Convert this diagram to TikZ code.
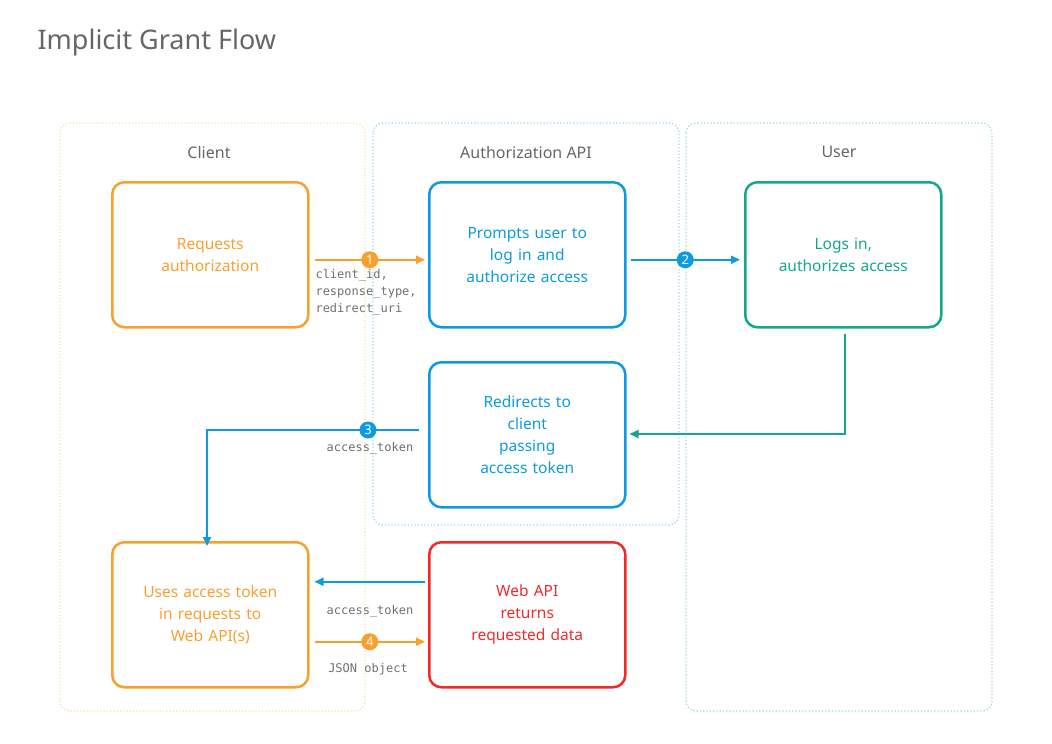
\documentclass[tikz,border=0pt]{standalone}
\usepackage{fontspec}
\setmainfont{Noto Sans}
\newfontfamily\monof{DejaVu Sans Mono}
\usetikzlibrary{arrows.meta}
\definecolor{cor}{HTML}{F99F2E}
\definecolor{cbl}{HTML}{0D9BDD}
\definecolor{cte}{HTML}{11A88E}
\definecolor{cre}{HTML}{F02A2A}
\definecolor{cgr}{HTML}{666666}
\definecolor{cmo}{HTML}{707070}
\begin{document}
\begin{tikzpicture}[x=1pt,y=-1pt,
 box/.style={draw,line width=2.5pt,rounded corners=12pt,minimum width=196pt,minimum height=145pt,anchor=north west,align=center,font=\fontsize{15.5}{22}\selectfont,text width=180pt},
 lane/.style={draw,dotted,line width=1.3pt,rounded corners=10pt},
 lt/.style={font=\fontsize{16}{18}\selectfont\bfseries,text=cgr},
 ar/.style={line width=1.8pt,-{Triangle[length=9pt,width=8pt]}},
 num/.style={circle,fill=#1,text=white,inner sep=0pt,minimum size=17pt,font=\fontsize{13}{13}\selectfont\bfseries},
 mono/.style={font=\monof\fontsize{12}{17}\selectfont,text=cmo}]
\useasboundingbox (0,0) rectangle (1052,744);
\node[anchor=west,font=\fontsize{27}{30}\selectfont\bfseries,text=cgr] (title) at (34,42) {Implicit Grant Flow};
\draw[lane,cor!35] (60,123) rectangle (365,711);
\draw[lane,cbl!40] (373,123) rectangle (679,525);
\draw[lane,cte!40] (686,123) rectangle (992,711);
\node[lt] (l1) at (209,152) {Client};
\node[lt] (l2) at (526,152) {Authorization API};
\node[lt] (l3) at (839,152) {User};
\node[box,cor,text=cor] (req) at (111,181) {Requests\\authorization};
\node[box,cbl,text=cbl] (prm) at (428,181) {Prompts user to\\log in and\\authorize access};
\node[box,cte,text=cte] (log) at (744,181) {Logs in,\\authorizes access};
\node[box,cbl,text=cbl] (red) at (428,361) {Redirects to\\client\\passing\\access token};
\node[box,cor,text=cor] (use) at (111,541) {Uses access token\\in requests to\\Web API(s)};
\node[box,cre,text=cre] (web) at (428,541) {Web API\\returns\\requested data};
% 1
\draw[ar,cor] ([xshift=5pt,yshift=-5pt]req.east) -- ([xshift=-3pt,yshift=-5pt]prm.west) node[num=cor,pos=0.5] (n1) {1};
\node[mono,anchor=north west,align=left] (t1) at (312,266) {client\_id,\\response\_type,\\redirect\_uri};
% 2
\draw[ar,cbl] ([xshift=4pt,yshift=-5pt]prm.east) -- ([xshift=-4pt,yshift=-5pt]log.west) node[num=cbl,pos=0.5] (n2) {2};
% user -> redirect
\coordinate (c1) at (845,334);
\coordinate (c2) at (845,434);
\draw[ar,cte,rounded corners=0pt] (c1) -- (c2) -- ([xshift=3pt,yshift=0pt]red.east |- c2);
% 3
\coordinate (c3) at (207,430);
\draw[ar,cbl] ([xshift=-9pt]red.west |- c3) -- (c3) -- ([yshift=-5pt]c3 |- use.north);
\node[num=cbl] (n3) at (368,430) {3};
\node[mono] (t3) at (370,448) {access\_token};
% 4
\draw[ar,cor] ([xshift=5pt,yshift=-27pt]use.east) -- ([xshift=-3pt,yshift=-27pt]web.west) node[num=cor,pos=0.5] (n4) {4};
\node[mono] (t4) at (370,611) {access\_token};
\draw[ar,cbl] ([xshift=-3pt,yshift=33pt]web.west) -- ([xshift=5pt,yshift=33pt]use.east);
\node[mono] (t5) at (368,669) {JSON object};
\end{tikzpicture}
\end{document}
